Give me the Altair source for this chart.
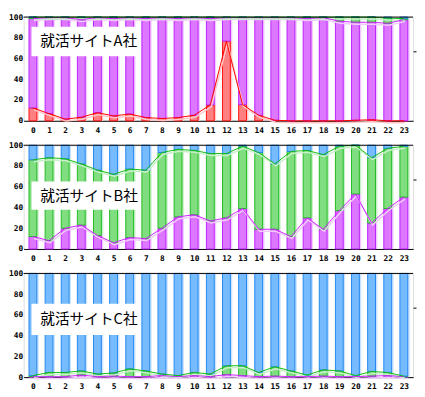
import altair as alt
import pandas as pd

hours = list(range(24))
panel_titles = ["就活サイトA社", "就活サイトB社", "就活サイトC社"]
series_names = ["red", "purple", "green", "blue"]
y_ticks = [0, 20, 40, 60, 80, 100]

# Panel A
a_red = [12.4, 6.9, 1.6, 3.4, 7.8, 4.7, 6.5, 3.1, 2.2, 3.1, 5.3, 15.3, 76.8, 15.6, 5.3, 0.5, 0.0, 0.0, 0.0, 0.0, 0.5, 1.0, 0.0, 0.0]
a_purple = [86.1, 92.6, 97.9, 94.1, 91.7, 93.8, 93.0, 95.4, 97.3, 95.4, 94.2, 83.2, 22.7, 83.9, 94.2, 99.0, 99.5, 98.5, 99.5, 96.0, 94.5, 94.0, 94.0, 97.5]
a_green = [1.5, 0.5, 0.5, 2.5, 0.5, 1.5, 0.5, 1.5, 0.5, 1.5, 0.5, 1.5, 0.5, 0.5, 0.5, 0.5, 0.5, 1.5, 0.5, 4.0, 5.0, 5.0, 5.0, 1.0]
a_blue = [0, 0, 0, 0, 0, 0, 0, 0, 0, 0, 0, 0, 0, 0, 0, 0, 0, 0, 0, 0, 0, 0, 1.0, 1.5]

# Panel B
b_purple = [12, 8, 20, 23, 13, 6, 11, 10, 20, 31, 33, 27, 30, 39, 19, 19, 12, 30, 19, 37, 53, 25, 39, 50]
b_green = [74, 80, 67, 59, 63, 66, 66, 66, 73, 65, 62, 65, 62, 60, 74, 63, 82, 65, 72, 62, 47, 63, 58, 49]
b_blue = [14, 12, 13, 18, 24, 28, 23, 24, 7, 4, 5, 8, 8, 1, 7, 18, 6, 5, 9, 1, 0, 12, 3, 1]

# Panel C
c_purple = [0.5, 0.5, 0.5, 2.0, 0.5, 1.0, 0.5, 0.5, 1.5, 0.5, 1.5, 0.5, 2.5, 1.5, 0.5, 1.0, 0.5, 0.5, 1.0, 0.5, 0.5, 1.0, 1.5, 0.5]
c_green = [1.0, 4.0, 4.0, 4.0, 2.5, 3.0, 7.5, 5.5, 1.5, 1.0, 3.0, 2.5, 8.5, 9.5, 4.0, 9.0, 5.5, 1.5, 6.0, 5.5, 1.0, 4.5, 3.0, 0.5]
c_blue = [98.5, 95.5, 95.5, 94.0, 97.0, 96.0, 92.0, 94.0, 97.0, 98.5, 95.5, 97.0, 89.0, 89.0, 95.5, 90.0, 94.0, 98.0, 93.0, 94.0, 98.5, 94.5, 95.5, 99.0]

fill_colors = {"red": "#ff8080", "purple": "#dd77ff", "green": "#80dd80", "blue": "#77bbff"}
edge_colors = {"red": "#ff1010", "purple": "#bb22ff", "green": "#22bb22", "blue": "#2288ee"}
shadow_colors = {"red": "#ffc8c8", "purple": "#f2c8ff", "green": "#c8f0c8", "blue": "#c8e2ff"}
line_colors = {"red": "#ff0000", "purple": "#cc22ff", "green": "#11bb11", "blue": "#2288ee"}

W, H = 398, 106
LABEL_FONT = "DejaVu Sans Mono"


def build(panel_series):
    rows = []
    for h in hours:
        cum = 0.0
        for name in series_names:
            if name not in panel_series:
                continue
            v = panel_series[name][h]
            rows.append(dict(hour=h, series=name, y0=cum, y1=cum + v))
            cum += v
    return pd.DataFrame(rows)


xscale = alt.Scale(domain=[-0.27, 23.27], nice=False, zero=False)
yscale = alt.Scale(domain=[0, 100], nice=False)
x_enc = alt.X("hour:Q", scale=xscale,
              axis=alt.Axis(values=hours, format="d", title=None, grid=False, ticks=False,
                            labelFont=LABEL_FONT, labelFontWeight="bold", labelFontSize=8,
                            labelColor="#000", labelPadding=6, domainColor="#000",
                            labelFlush=False, labelOverlap=False))
y_axis = alt.Axis(values=y_ticks, title=None, grid=False, ticks=False, domain=False,
                  labelFont=LABEL_FONT, labelFontWeight="bold", labelFontSize=8,
                  labelColor="#000", labelPadding=1)


def panel(df, title, box_top, box_bottom):
    layers = []
    present = [s for s in series_names if s in set(df["series"])]
    # shadow bars
    for s in present:
        layers.append(alt.Chart(df).transform_filter(alt.datum.series == s)
                      .mark_bar(size=8, xOffset=2, color=shadow_colors[s])
                      .encode(x=x_enc, y=alt.Y("y0:Q", scale=yscale, axis=y_axis), y2="y1:Q"))
    # main bars
    for s in present:
        layers.append(alt.Chart(df).transform_filter(alt.datum.series == s)
                      .mark_bar(size=8, fill=fill_colors[s], stroke=edge_colors[s], strokeWidth=1)
                      .encode(x=x_enc, y=alt.Y("y0:Q", scale=yscale, axis=y_axis), y2="y1:Q"))
    line_series = present[:-1]
    for s in line_series:
        layers.append(alt.Chart(df).transform_filter(alt.datum.series == s)
                      .mark_line(color=shadow_colors[s], strokeWidth=1.5, xOffset=1, yOffset=2)
                      .encode(x=x_enc, y=alt.Y("y1:Q", scale=yscale, axis=y_axis)))
    for s in line_series:
        layers.append(alt.Chart(df).transform_filter(alt.datum.series == s)
                      .mark_line(color=line_colors[s], strokeWidth=1)
                      .encode(x=x_enc, y=alt.Y("y1:Q", scale=yscale, axis=y_axis)))
    one = pd.DataFrame({"k": [0]})
    layers.append(alt.Chart(one).mark_rect(color="white").encode(
        x=alt.value(8), x2=alt.value(116), y=alt.value(box_top), y2=alt.value(box_bottom)))
    layers.append(alt.Chart(one).mark_text(align="left", baseline="middle", font="Noto Sans CJK JP",
                                           fontSize=15, color="#000", text=title).encode(
        x=alt.value(17), y=alt.value((box_top + box_bottom) / 2)))
    main = alt.layer(*layers)
    top_rule = alt.Chart(one).mark_rule(color="#000", strokeWidth=1).encode(
        y=alt.Y(datum=100, scale=yscale,
                axis=alt.Axis(orient="right", values=[67], labels=False, domain=False, ticks=True,
                              tickSize=3, tickColor="#000", title=None, grid=False)))
    return alt.layer(main, top_rule).resolve_axis(y="independent").properties(width=W, height=H)


dfA = build({"red": a_red, "purple": a_purple, "green": a_green, "blue": a_blue})
dfB = build({"purple": b_purple, "green": b_green, "blue": b_blue})
dfC = build({"purple": c_purple, "green": c_green, "blue": c_blue})

chart = alt.vconcat(
    panel(dfA, panel_titles[0], 10, 40),
    panel(dfB, panel_titles[1], 37, 66),
    panel(dfC, panel_titles[2], 31, 63),
    spacing=5,
).properties(padding={"left": 0, "top": 0, "right": 0, "bottom": 0}).configure_view(
    stroke="#999", strokeWidth=1
).configure(background="white")

chart.save("out.html", embed_options={"renderer": "svg", "actions": False})
